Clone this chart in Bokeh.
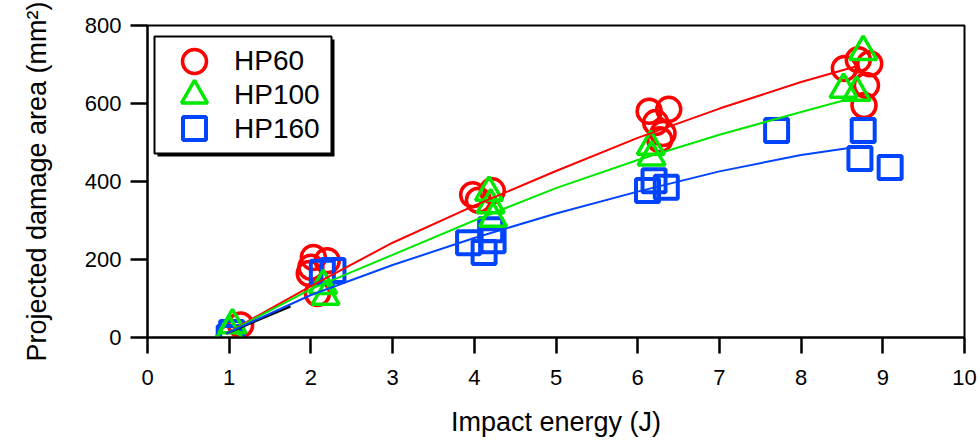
from bokeh.plotting import figure
from bokeh.models import Range1d, Legend, LegendItem, BoxAnnotation, FixedTicker
from bokeh.embed import file_html
from bokeh.resources import INLINE

# ---- data ----
hp60_x = [1.0, 1.14, 2.03, 2.2, 2.0, 1.98, 2.08, 3.98, 4.22, 4.05,
          6.14, 6.38, 6.22, 6.31, 6.27, 8.53, 8.84, 8.8, 8.77, 8.7]
hp60_y = [0, 32, 205, 197, 180, 164, 113, 366, 376, 352,
          580, 585, 551, 523, 507, 690, 702, 646, 595, 712]

hp100_x = [1.0, 1.04, 2.15, 2.18, 4.18, 4.2, 4.23, 6.16, 6.17, 8.76, 8.52, 8.68]
hp100_y = [15, 32, 133, 105, 372, 340, 305, 490, 462, 733, 636, 628]

hp160_x = [1.0, 1.03, 2.14, 2.27, 3.93, 4.23, 4.12, 4.2, 6.12, 6.35, 6.2, 7.7, 8.76, 8.72, 9.09]
hp160_y = [0, 13, 167, 172, 243, 248, 218, 276, 377, 385, 402, 531, 531, 459, 436]

# fitted trend lines
fit60_x = [0.96, 2, 3, 4, 5, 6, 7, 8, 8.7]
fit60_y = [10, 132, 243, 338, 427, 512, 587, 655, 697]
fit100_x = [0.96, 2, 3, 4, 5, 6, 7, 8, 8.6]
fit100_y = [10, 124, 212, 300, 383, 455, 520, 578, 612]
fit160_x = [0.96, 2, 3, 4, 5, 6, 7, 8, 8.65]
fit160_y = [10, 109, 186, 255, 318, 374, 426, 468, 488]
black_x = [0.96, 1.75]
black_y = [10, 80]

series_labels = ["HP60", "HP100", "HP160"]
x_ticks = [0, 1, 2, 3, 4, 5, 6, 7, 8, 9, 10]
y_ticks = [0, 200, 400, 600, 800]

RED = "#ff0000"
GREEN = "#00e800"
BLUE = "#0044ff"
FONT = "Liberation Sans"

# frame geometry (pixels) used only to place legend decorations
FL, FR, FT, FB = 147, 964, 25, 337
XMIN, XMAX, YMIN, YMAX = 0, 10, 0, 800


def dx(px):
    return XMIN + (px - FL) * (XMAX - XMIN) / (FR - FL)


def dy(py):
    return YMIN + (FB - py) * (YMAX - YMIN) / (FB - FT)


p = figure(width=980, height=443, output_backend="svg", toolbar_location=None,
           x_range=Range1d(XMIN, XMAX), y_range=Range1d(YMIN, YMAX),
           min_border_left=FL, min_border_right=980 - FR, min_border_top=FT,
           min_border_bottom=443 - FB, background_fill_color="white",
           border_fill_color="white")
p.xgrid.visible = False
p.ygrid.visible = False
p.outline_line_color = "black"
p.outline_line_width = 2

for ax in (p.xaxis[0], p.yaxis[0]):
    ax.axis_line_width = 2
    ax.major_tick_line_width = 2.5
    ax.major_tick_in = 0
    ax.minor_tick_in = 0
    ax.minor_tick_out = 0
    ax.major_label_text_font = FONT
    ax.major_label_text_font_size = "22px"
    ax.major_label_text_color = "black"
    ax.axis_label_text_font = FONT
    ax.axis_label_text_font_size = "27px"
    ax.axis_label_text_font_style = "normal"
    ax.axis_label_text_color = "black"

p.xaxis.ticker = FixedTicker(ticks=x_ticks)
p.yaxis.ticker = FixedTicker(ticks=y_ticks)
p.xaxis.major_tick_out = 16
p.yaxis.major_tick_out = 17
p.xaxis.major_label_standoff = 16
p.yaxis.major_label_standoff = 9
p.xaxis.axis_label = "Impact energy (J)"
p.yaxis.axis_label = "Projected damage area (mm\u00b2)"
p.xaxis.axis_label_standoff = 19
p.yaxis.axis_label_standoff = 30

# legend box with drop shadow (decoration, drawn beneath the glyphs)
shadow = BoxAnnotation(left=dx(157), right=dx(334), top=dy(39), bottom=dy(156),
                       fill_color="black", fill_alpha=1, line_alpha=0,
                       level="underlay")
box = BoxAnnotation(left=dx(154), right=dx(331), top=dy(36), bottom=dy(153),
                    fill_color="white", fill_alpha=1, line_color="black",
                    line_width=2, line_alpha=1, level="underlay")
p.add_layout(shadow)
p.add_layout(box)

p.scatter(hp60_x, hp60_y, marker="circle", size=24, fill_alpha=0,
          line_color=RED, line_width=3.5)
p.scatter(hp160_x, hp160_y, marker="square", size=23, fill_alpha=0,
          line_color=BLUE, line_width=4)
p.scatter(hp100_x, hp100_y, marker="triangle", size=27, fill_alpha=0,
          line_color=GREEN, line_width=3.5)

p.line(black_x, black_y, line_color="black", line_width=2.5)
p.line(fit60_x, fit60_y, line_color=RED, line_width=2)
p.line(fit100_x, fit100_y, line_color=GREEN, line_width=2)
p.line(fit160_x, fit160_y, line_color=BLUE, line_width=2)

# legend keys (large markers, as in the reference)
key_x = [dx(194)]
p.scatter(key_x, [dy(61)], marker="circle", size=24, fill_alpha=0,
          line_color=RED, line_width=3.5)
p.scatter(key_x, [dy(95)], marker="triangle", size=26, fill_alpha=0,
          line_color=GREEN, line_width=3.5)
p.scatter(key_x, [dy(128)], marker="square", size=23, fill_alpha=0,
          line_color=BLUE, line_width=4)

# legend labels (transparent legend; keys drawn above)
dummies = [p.scatter([], [], marker="circle", size=1, line_alpha=0, fill_alpha=0)
           for _ in series_labels]
legend = Legend(items=[LegendItem(label=lab, renderers=[d])
                       for lab, d in zip(series_labels, dummies)],
                location=(154 - FL, FB - 154),
                padding=dict(left=20, right=10, top=8, bottom=8), spacing=0,
                glyph_width=40, glyph_height=34, label_height=34,
                label_standoff=20, label_width=87, label_text_font=FONT,
                label_text_font_size="28px", label_text_color="black",
                border_line_alpha=0, background_fill_alpha=0)
p.add_layout(legend, "center")

open("out.html", "w").write(file_html(p, INLINE))
